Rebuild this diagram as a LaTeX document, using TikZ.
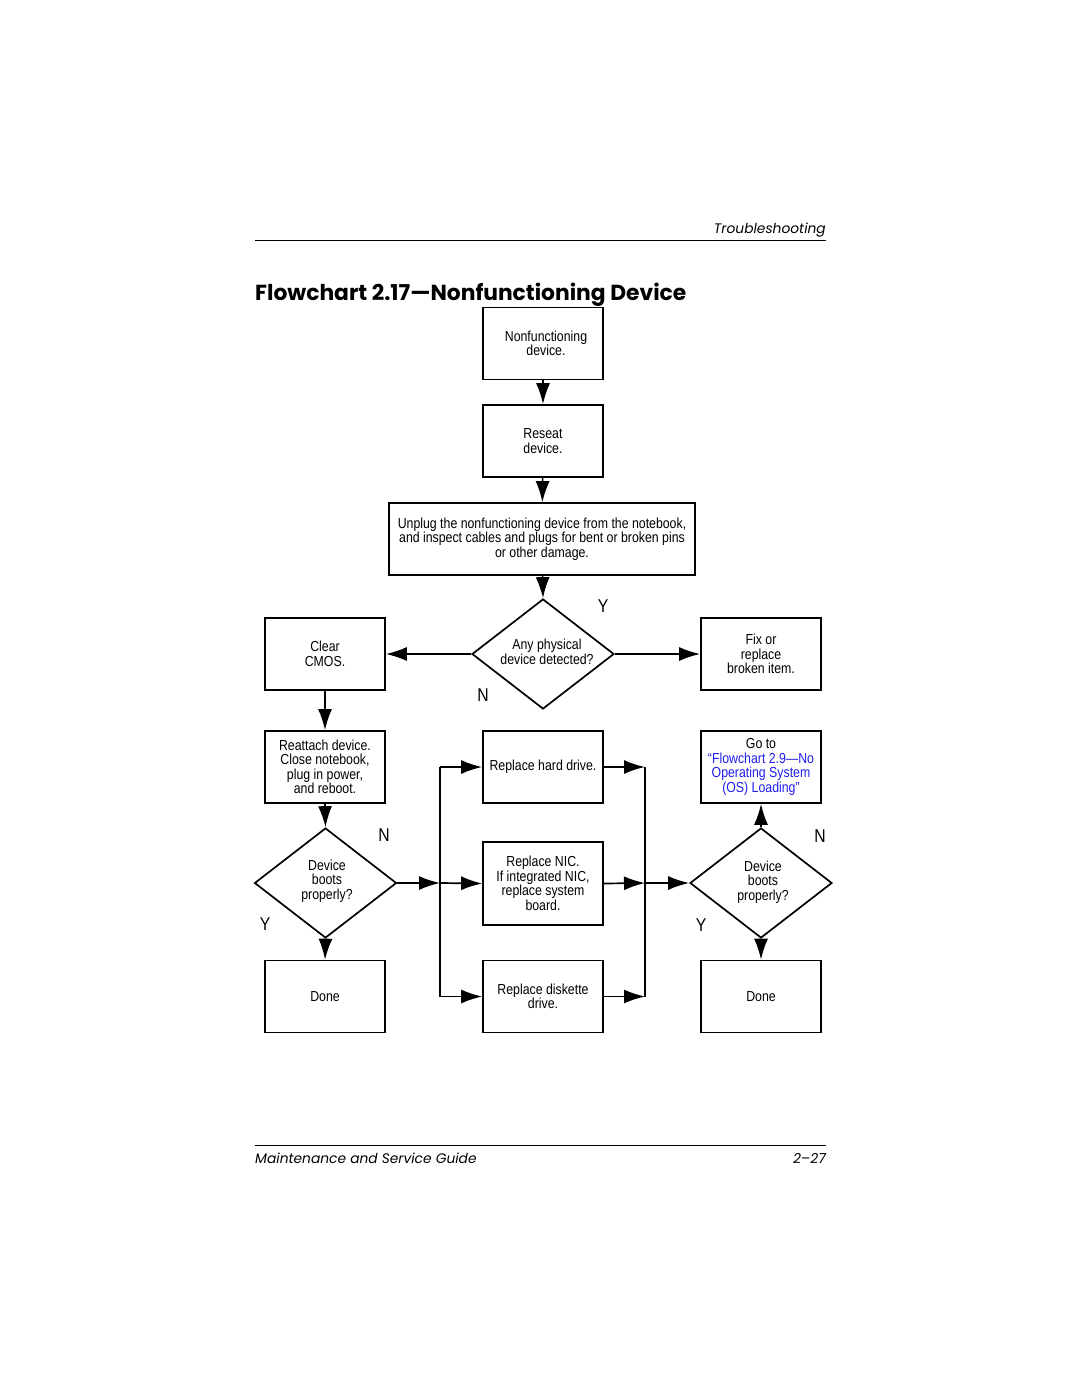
\documentclass[tikz,border=0pt]{standalone}
\usepackage{fontspec}
\usetikzlibrary{shapes.geometric,arrows.meta}
\newfontfamily\condfont[FakeStretch=0.85]{Liberation Sans}
\newfontfamily\futfont{Poppins}
\definecolor{linkblue}{RGB}{30,30,235}
\begin{document}
\begin{tikzpicture}[x=1pt,y=-1pt,
  every node/.style={font=\condfont\fontsize{14.5}{14.5}\selectfont},
  box/.style={draw,line width=1.7pt,minimum width=120pt,minimum height=72pt,align=center,inner sep=2pt},
  dia/.style={draw,line width=1.7pt,diamond,shape aspect=1.3,inner sep=0pt,minimum width=142pt,minimum height=110pt,align=center},
  dtext/.style={align=center,inner sep=0pt},
  arr/.style={line width=1.7pt,-{Latex[length=21pt,width=14pt]}},
  ln/.style={line width=1.7pt},
  yn/.style={font=\condfont\fontsize{18.5}{18}\selectfont}]
\useasboundingbox (0,0) rectangle (1080,1397);
% header / footer
\draw[line width=1pt] (255,240) -- (826,240);
\node[anchor=base east,inner sep=0pt,font=\futfont\itshape\fontsize{13.8}{16}\selectfont] (hdr) at (826,233) {Troubleshooting};
\node[anchor=base west,inner sep=0pt,font=\futfont\bfseries\fontsize{21.8}{24}\selectfont] (ttl) at (255,300) {Flowchart 2.17—Nonfunctioning Device};
\draw[line width=1pt] (255,1145) -- (826,1145);
\node[anchor=base west,inner sep=0pt,font=\futfont\itshape\fontsize{13.8}{16}\selectfont] (ftl) at (255,1163) {Maintenance and Service Guide};
\node[anchor=base east,inner sep=0pt,font=\futfont\itshape\fontsize{13.8}{16}\selectfont] (ftr) at (826,1163) {2–27};
% nodes
\node[box] (b1) at (543,343.5) {\hspace*{6pt}Nonfunctioning\\\hspace*{6pt}device.};
\node[box] (b2) at (543,441) {Reseat\\device.};
\node[box,minimum width=306pt] (b3) at (542,539) {Unplug the nonfunctioning device from the notebook,\\and inspect cables and plugs for bent or broken pins\\or other damage.};
\node[dia] (d1) at (543,654) {};
\node[dtext] (d1t) at (547,652) {Any physical\\device detected?};
\node[box] (cmos) at (325,654) {Clear\\CMOS.};
\node[box] (fix) at (761,654) {Fix or\\replace\\broken item.};
\node[box] (re) at (325,767) {Reattach device.\\Close notebook,\\plug in power,\\and reboot.};
\node[dia] (d2) at (325.5,883) {};
\node[dtext] (d2t) at (327,881) {Device\\boots\\properly?};
\node[box] (done1) at (325,996.5) {Done};
\node[box] (hd) at (543,767) {Replace hard drive.};
\node[box,minimum height=83pt] (nic) at (543,883.5) {Replace NIC.\\If integrated NIC,\\replace system\\board.};
\node[box] (dk) at (543,996.5) {Replace diskette\\drive.};
\node[box] (go) at (761,767) {Go to\\\textcolor{linkblue}{“Flowchart 2.9—No}\\\textcolor{linkblue}{Operating System}\\\textcolor{linkblue}{(OS) Loading”}};
\node[dia] (d3) at (761,883) {};
\node[dtext] (d3t) at (763,882) {Device\\boots\\properly?};
\node[box] (done2) at (761,996.5) {Done};
% labels
\node[yn] (y1) at (603,606) {Y};
\node[yn] (n1) at (483,695) {N};
\node[yn] (n2) at (384,835) {N};
\node[yn] (y2) at (265,924) {Y};
\node[yn] (n3) at (820,836) {N};
\node[yn] (y3) at (701,925) {Y};
% buses
\coordinate (lb) at (440,883);
\coordinate (rb) at (645,883);
% connectors
\draw[arr] (b1) -- (b2);
\draw[arr] (b2) -- (b3);
\draw[arr] (b3) -- (d1.north);
\draw[arr] (d1.west) -- (cmos.east);
\draw[arr] (d1.east) -- (fix.west);
\draw[arr] (cmos) -- (re);
\draw[arr] (re.south) -- (d2.north);
\draw[arr] (d2.south) -- (done1.north);
\draw[arr] (d2.east) -- (lb);
\draw[ln] (lb |- hd.west) -- (lb |- dk.west);
\draw[arr] (lb |- hd.west) -- (hd.west);
\draw[arr] (lb) -- (nic.west);
\draw[arr] (lb |- dk.west) -- (dk.west);
\draw[arr] (hd.east) -- (hd.east -| rb);
\draw[arr] (nic.east) -- (rb);
\draw[arr] (dk.east) -- (dk.east -| rb);
\draw[ln] (rb |- hd.east) -- (rb |- dk.east);
\draw[arr] (rb) -- (d3.west);
\draw[arr] (d3.north) -- (go.south);
\draw[arr] (d3.south) -- (done2.north);
\end{tikzpicture}
\end{document}
